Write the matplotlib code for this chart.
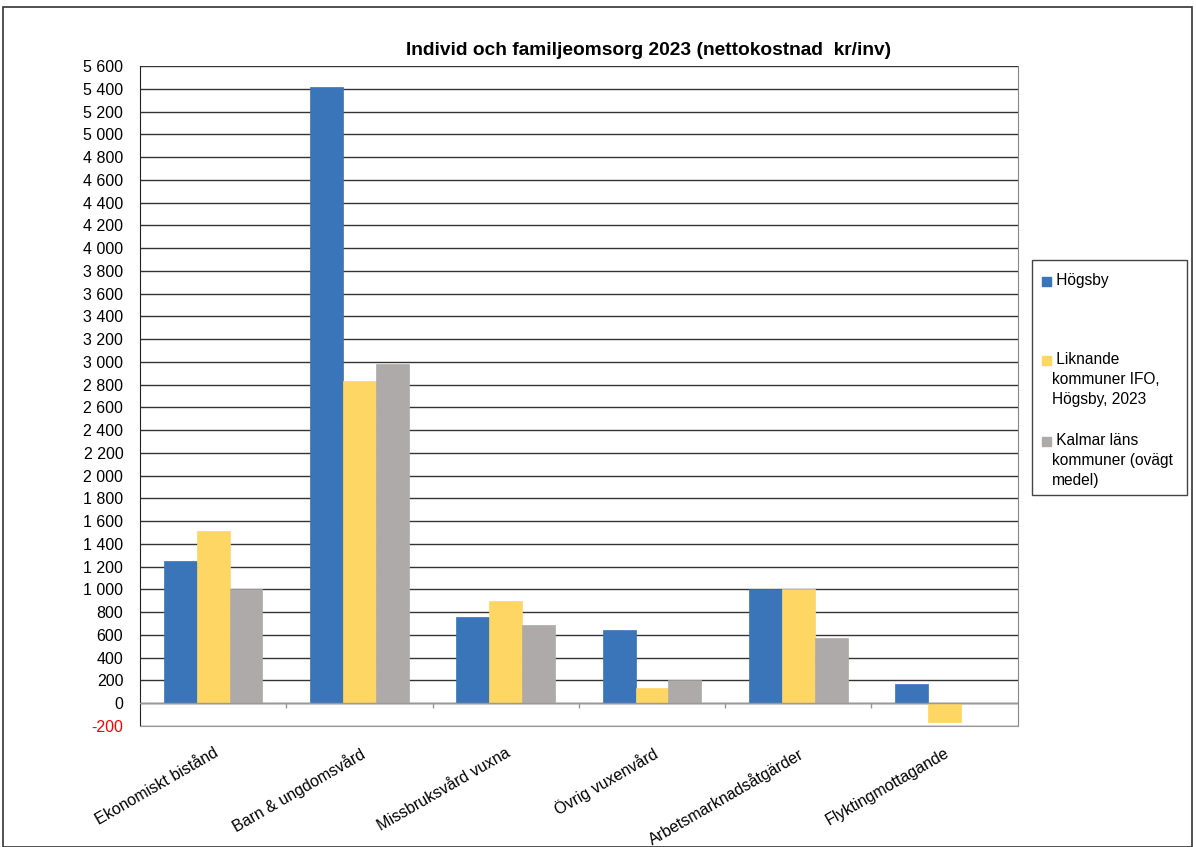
import matplotlib.pyplot as plt
import matplotlib.patches as mpatches
import numpy as np

plt.rcParams['font.family'] = ['Liberation Sans', 'DejaVu Sans']

# data
kategorier = ['Ekonomiskt bistånd', 'Barn & ungdomsvård', 'Missbruksvård vuxna',
              'Övrig vuxenvård', 'Arbetsmarknadsåtgärder', 'Flyktingmottagande']
hogsby = [1250, 5420, 755, 645, 1000, 165]
liknande = [1510, 2830, 895, 135, 1000, -165]
kalmar = [1005, 2980, 685, 200, 575, 0]
serie_namn = [' Högsby', ' Liknande\nkommuner IFO,\nHögsby, 2023', ' Kalmar läns\nkommuner (ovägt\nmedel)']
farger = ['#3A74B9', '#FDD663', '#AEAAAA']

fig = plt.figure(figsize=(11.96, 8.47), dpi=100)
ax = fig.add_axes([0.117, 0.143, 0.734, 0.779])

x = np.arange(len(kategorier))
w = 0.225
for i, (vals, c) in enumerate(zip([hogsby, liknande, kalmar], farger)):
    ax.bar(x + (i - 1) * w, vals, w, color=c, edgecolor=c, linewidth=0.5, zorder=3)

ax.set_xlim(-0.5, len(kategorier) - 0.5)
ax.set_ylim(-200, 5600)
yt = np.arange(-200, 5601, 200)
ax.set_yticks(yt)
ax.set_yticklabels([f'{v:,}'.replace(',', ' ') for v in yt], fontsize=11.5)
ax.get_yticklabels()[0].set_color('red')
ax.yaxis.grid(True, color='#333333', linewidth=1, zorder=0)
ax.tick_params(axis='y', length=0, pad=12)

# nollinje och kategorimarkeringar
ax.axhline(0, color='#999999', linewidth=1, zorder=4)
ax.vlines(np.arange(0.5, len(kategorier) - 0.5), -45, 0, color='#999999', linewidth=1)

ax.set_xticks(x)
ax.set_xticklabels(kategorier, rotation=30, ha='right', rotation_mode='anchor', fontsize=11.5)
ax.tick_params(axis='x', length=0, pad=14)

ax.spines['top'].set_visible(False)
ax.spines['left'].set_color('#222222')
ax.spines['right'].set_color('#888888')
ax.spines['bottom'].set_color('#999999')

fig.text(0.542, 0.94, 'Individ och familjeomsorg 2023 (nettokostnad  kr/inv)',
         ha='center', va='center', fontsize=13.8, fontweight='bold')

# legend, ritad för hand
fig.patches.append(mpatches.Rectangle((1032 / 1196, 1 - 495 / 847), 155 / 1196, 235 / 847,
                                      transform=fig.transFigure, fill=False,
                                      edgecolor='#444444', linewidth=1))
ys = [281, 360, 441]
for namn, c, yy in zip(serie_namn, farger, ys):
    fig.patches.append(mpatches.Rectangle((1042 / 1196, 1 - (yy + 5) / 847), 9 / 1196, 9 / 847,
                                          transform=fig.transFigure, color=c))
    fig.text(1052 / 1196, 1 - (yy - 8) / 847, namn, ha='left', va='top', fontsize=11.2,
             linespacing=1.42)

# ram runt figuren
fig.patches.append(mpatches.Rectangle((3 / 1196, 0), 1189 / 1196, 1 - 7 / 847,
                                      transform=fig.transFigure, fill=False,
                                      edgecolor='#333333', linewidth=1.2))

fig.savefig('out.png', dpi=100)
